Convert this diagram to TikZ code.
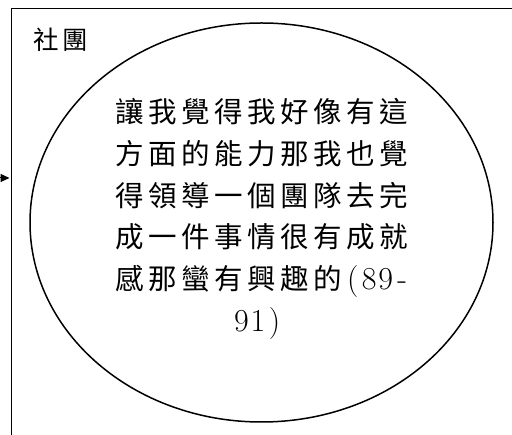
\documentclass[tikz,border=0pt]{standalone}
\usepackage{fontspec}
\newfontfamily\cjk{Noto Sans CJK TC}
\usetikzlibrary{arrows.meta,shapes.geometric}
\newcommand\spreadchars[2]{\def\sppitch{#1}\spreadloop#2\relax}
\def\spreadloop#1{\ifx\relax#1\else\makebox[\sppitch]{#1}\expandafter\spreadloop\fi}
\newcommand\bodyfont{\cjk\fontsize{28.5}{34}\selectfont}
\newcommand\latfont{\rmfamily\fontsize{32}{34}\selectfont}
\newcommand\cj[1]{{\bodyfont\spreadchars{33pt}{#1}}}
\newcommand\lt[1]{{\latfont\spreadchars{16.5pt}{#1}}}
\tikzset{
  frameline/.style={line width=1.8pt,black},
  bubble/.style={ellipse,draw,line width=1.5pt,minimum width=463pt,minimum height=399pt,inner sep=0pt},
  bodyline/.style={anchor=base,inner sep=0pt},
  arrowline/.style={line width=1pt,-{Triangle[length=9pt,width=8pt]}}
}
\begin{document}
\begin{tikzpicture}[x=1pt,y=-1pt]
\useasboundingbox (0,0) rectangle (512,435);
\clip (0,0) rectangle (512,435);
\fill[white] (0,0) rectangle (512,435);
% frame (only top and left edges visible)
\coordinate (ftl) at (11.5,8.5);
\coordinate (fbl) at (11.5,445);
\coordinate (ftr) at (525,8.5);
\coordinate (fin) at (9.5,178);
\coordinate (fout) at (-30,178);
\draw[frameline] (fbl) -- (ftl) -- (ftr);
\draw[arrowline] (fout) -- (fin);
% label
\node[bodyline] (lab) at (61,49.5) {{\cjk\fontsize{25.5}{30}\selectfont\spreadchars{29pt}{社團}}};
% ellipse
\node[bubble] (ell) at (261.5,222.5) {};
% body text
\node[bodyline] (l1) at (262,122.5) {\cj{讓我覺得我好像有這}};
\node[bodyline] (l2) at (262,164.3) {\cj{方面的能力那我也覺}};
\node[bodyline] (l3) at (262,206.1) {\cj{得領導一個團隊去完}};
\node[bodyline] (l4) at (262,247.9) {\cj{成一件事情很有成就}};
\node[bodyline] (l5) at (262,289.7) {\cj{感那蠻有興趣的}\lt{(89-}};
\node[bodyline] (l6) at (258,331.5) {\lt{91)}};
\end{tikzpicture}
\end{document}
